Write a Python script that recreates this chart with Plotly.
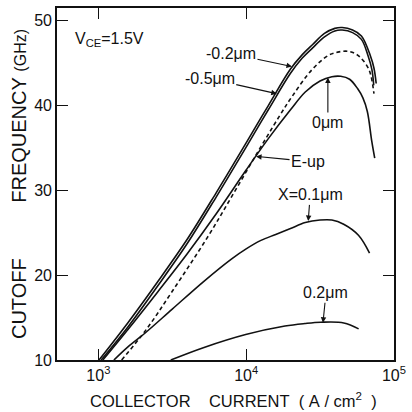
import plotly.graph_objects as go

# ---- data (collector current in A/cm^2, cutoff frequency in GHz) ----
x_m02 = [1010, 1585, 2512, 3981, 6310, 10000, 14125, 19953, 23988, 28184, 33884, 39811, 44668, 52481, 60256, 69183, 73282, 75858]
y_m02 = [10.0, 14.4, 19.2, 24.2, 29.8, 35.6, 40.0, 44.3, 46.0, 47.2, 48.5, 49.1, 49.2, 48.9, 48.2, 45.9, 44.4, 42.6]

x_m05 = [1045, 1585, 2512, 3981, 6310, 10000, 14125, 19953, 23988, 28184, 33884, 39811, 44668, 52481, 60256, 67000, 71000, 73000]
y_m05 = [10.0, 13.9, 18.7, 23.7, 29.3, 35.1, 39.5, 43.8, 45.6, 46.8, 48.1, 48.8, 48.9, 48.6, 47.8, 45.8, 44.2, 42.4]

x_0 = [1072, 1585, 2512, 3981, 6310, 10000, 14125, 19953, 25119, 31623, 38019, 43652, 50119, 56754, 61660, 66069, 70795, 74131]
y_0 = [10.0, 13.6, 18.0, 22.5, 27.3, 32.4, 36.1, 39.5, 41.6, 42.9, 43.4, 43.45, 43.1, 42.0, 40.9, 39.3, 35.8, 33.8]

x_eup = [1437, 2110, 3162, 5445, 7943, 11508, 16711, 20512, 27797, 35892, 41687, 48753, 54954, 59841, 67920, 73282]
y_eup = [10.0, 13.6, 18.1, 24.4, 29.2, 34.0, 38.7, 41.1, 44.2, 45.9, 46.3, 46.4, 46.1, 45.6, 44.2, 41.4]

x_01 = [1274, 1585, 2110, 3162, 5152, 7943, 10000, 12589, 15849, 19953, 25119, 31623, 38019, 45709, 57544, 68391]
y_01 = [10.0, 11.55, 13.3, 16.0, 19.25, 21.9, 23.1, 24.1, 24.8, 25.5, 26.2, 26.5, 26.5, 26.0, 24.7, 22.6]

x_02 = [3090, 5130, 9930, 18300, 25000, 32000, 45800, 57700]
y_02 = [10.0, 11.45, 13.0, 14.0, 14.3, 14.45, 14.37, 13.67]

x_tickvals = [1e3, 1e4, 1e5]
x_ticktext = ["10<sup>3</sup>", "10<sup>4</sup>", "10<sup>5</sup>"]
y_tickvals = [10, 20, 30, 40, 50]

FONT = "Liberation Sans"
INK = "#111111"

fig = go.Figure()

def add_curve(xs, ys, name, dash="solid"):
    fig.add_trace(go.Scatter(
        x=xs, y=ys, mode="lines", name=name,
        line=dict(color=INK, width=1.6, dash=dash, shape="spline", smoothing=1.0),
        showlegend=False, hoverinfo="skip"))

add_curve(x_m02, y_m02, "-0.2μm")
add_curve(x_m05, y_m05, "-0.5μm")
add_curve(x_0, y_0, "0μm")
add_curve(x_eup, y_eup, "E-up", dash="4px,3px")
add_curve(x_01, y_01, "X=0.1μm")
add_curve(x_02, y_02, "0.2μm")

ann_font = dict(family=FONT, size=16, color=INK)
arrow = dict(showarrow=True, arrowhead=2, arrowsize=1, arrowwidth=1.1, arrowcolor=INK)

nb = "\u00a0"
x_title = "COLLECTOR" + nb*4 + "CURRENT" + nb*2 + "(" + nb + "A" + nb + "/" + nb + "cm<sup>2</sup>" + nb*2 + ")"

annotations = [
    dict(x=3.073, y=47.75, text="V<sub>CE</sub>=1.5V", showarrow=False, font=ann_font),
    dict(x=4.31, y=44.6, ax=-61, ay=-13, text="-0.2μm", font=ann_font, **arrow),
    dict(x=4.207, y=41.4, ax=-67, ay=-15, text="-0.5μm", font=ann_font, **arrow),
    dict(x=4.553, y=43.3, ax=0, ay=45, text="0μm", font=ann_font, **arrow),
    dict(x=4.067, y=34.0, ax=52, ay=5, text="E-up", font=ann_font, **arrow),
    dict(x=4.42, y=26.4, ax=2, ay=-26, text="X=0.1μm", font=ann_font, **arrow),
    dict(x=4.52, y=14.4, ax=3, ay=-30, text="0.2μm", font=ann_font, **arrow),
    dict(xref="paper", yref="paper", x=(236 - 57) / 342, y=(360 - 400) / 354,
         xanchor="center", yanchor="middle", text=x_title, showarrow=False,
         font=dict(family=FONT, size=16.5, color=INK)),
]

fig.update_layout(
    width=412, height=412,
    margin=dict(l=57, r=13, t=6, b=52),
    paper_bgcolor="white", plot_bgcolor="white",
    font=dict(family=FONT, color=INK),
    annotations=annotations,
)

fig.update_xaxes(
    type="log", range=[2.72, 5.0005],
    tickvals=x_tickvals, ticktext=x_ticktext,
    ticks="inside", ticklen=11, tickwidth=1.4, tickcolor=INK,
    showline=True, linewidth=1.6, linecolor=INK, mirror="ticks",
    showgrid=False, zeroline=False,
    tickfont=dict(family=FONT, size=16, color=INK),
)
fig.update_yaxes(
    range=[10, 51.5], tickvals=y_tickvals,
    ticks="inside", ticklen=11, tickwidth=1.4, tickcolor=INK,
    showline=True, linewidth=1.6, linecolor=INK, mirror="ticks",
    showgrid=False, zeroline=False,
    tickfont=dict(family=FONT, size=16, color=INK),
    title=dict(text="CUTOFF" + nb*10 + "FREQUENCY" + nb + "<span style='font-size:16px'>(GHz)</span>",
               font=dict(family=FONT, size=20, color=INK), standoff=2),
)

fig.write_html("out.html", config={"displayModeBar": False},
               post_script="document.body.style.margin='0';")
